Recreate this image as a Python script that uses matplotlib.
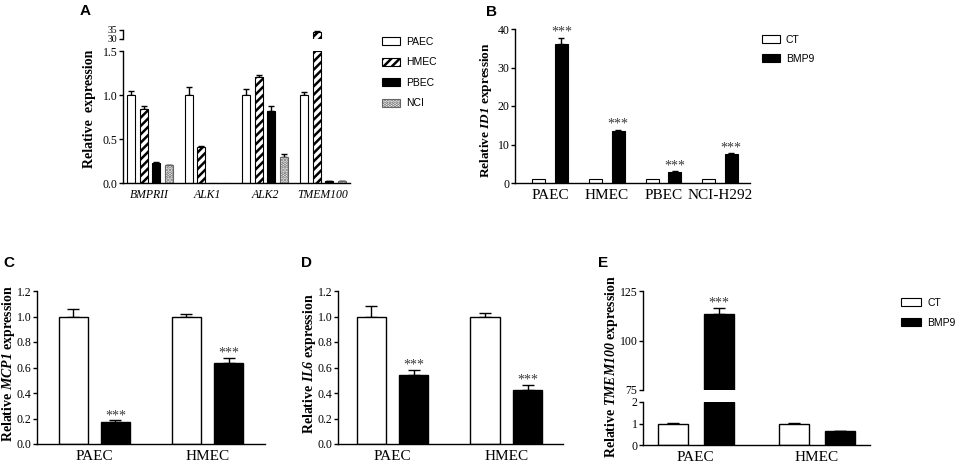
import matplotlib
matplotlib.use("Agg")
import matplotlib.pyplot as plt
from matplotlib.patches import Patch
import numpy as np

# ---------------- data ----------------
genes_A = ["BMPRII", "ALK1", "ALK2", "TMEM100"]
cells_A = ["PAEC", "HMEC", "PBEC", "NCI"]
vals_A = {
    "PAEC": [1.0, 1.0, 1.0, 1.0],
    "HMEC": [0.84, 0.41, 1.20, 34.0],
    "PBEC": [0.23, 0.0, 0.82, 0.02],
    "NCI":  [0.20, 0.0, 0.29, 0.02],
}
errs_A = {
    "PAEC": [0.04, 0.09, 0.07, 0.03],
    "HMEC": [0.03, 0.005, 0.03, 0.5],
    "PBEC": [0.01, 0.0, 0.05, 0.005],
    "NCI":  [0.01, 0.0, 0.04, 0.005],
}

cells_B = ["PAEC", "HMEC", "PBEC", "NCI-H292"]
ct_B = [1.0, 1.0, 1.0, 1.0]
bmp9_B = [36.0, 13.5, 2.8, 7.5]
bmp9_B_err = [1.7, 0.3, 0.2, 0.3]

cells_CDE = ["PAEC", "HMEC"]
ct_C = [1.0, 1.0]
ct_C_err = [0.06, 0.02]
bmp9_C = [0.175, 0.635]
bmp9_C_err = [0.01, 0.04]

ct_D = [1.0, 1.0]
ct_D_err = [0.08, 0.03]
bmp9_D = [0.545, 0.42]
bmp9_D_err = [0.035, 0.045]

ct_E = [1.0, 1.0]
ct_E_err = [0.02, 0.01]
bmp9_E = [113.5, 0.65]
bmp9_E_err = [3.0, 0.01]

treat_labels = ["CT", "BMP9"]
sig_B = [True, True, True, True]
sig_C = [True, True]
sig_D = [True, True]
sig_E = [True, False]

# ---------------- style ----------------
plt.rcParams["mathtext.fontset"] = "custom"
plt.rcParams["mathtext.rm"] = "Liberation Serif"
plt.rcParams["mathtext.it"] = "Liberation Serif:italic"
plt.rcParams["mathtext.bf"] = "Liberation Serif:bold"
try:
    plt.rcParams["mathtext.bfit"] = "Liberation Serif:italic:bold"
    BFIT = r"\mathbfit"
except KeyError:
    BFIT = r"\mathbf"
plt.rcParams["hatch.linewidth"] = 1.8
plt.rcParams["axes.linewidth"] = 1.0

SERIF = "Liberation Serif"
SANS = "Liberation Sans"
W, H = 964, 467
fig = plt.figure(figsize=(W / 100, H / 100), dpi=100)


def px_axes(x0, y_top, x1, y_bot):
    return fig.add_axes([x0 / W, 1 - y_bot / H, (x1 - x0) / W, (y_bot - y_top) / H])


def style_axes(ax, bottom=True, tick_size=8):
    ax.spines["top"].set_visible(False)
    ax.spines["right"].set_visible(False)
    ax.spines["bottom"].set_visible(bottom)
    ax.set_facecolor("none")
    ax.tick_params(axis="y", direction="out", length=3, width=1, pad=1,
                   labelsize=tick_size)
    ax.tick_params(axis="x", length=0, pad=4)


def ylabel_at(x_px, y_px, gene, size=10):
    if gene:
        txt = r"Relative $" + BFIT + "{" + gene + r"}$ expression"
    else:
        txt = "Relative  expression"
    fig.text(x_px / W, 1 - y_px / H, txt, rotation=90, ha="center", va="center",
             fontfamily=SERIF, fontweight="bold", fontsize=size)


def up_err(ax, x, y, e, cap=2.5):
    e = np.atleast_1d(e)
    ax.errorbar(x, y, yerr=[np.zeros_like(e), e],
                fmt="none", ecolor="black", elinewidth=1, capsize=cap, capthick=1,
                zorder=1)


def stars(ax, x, y, size=10):
    ax.text(x, y, "***", ha="center", va="bottom", fontfamily=SERIF,
            fontsize=size, color="#3a3a3a")


# ---------------- Panel A ----------------
fills_A = {
    "PAEC": dict(color="white", edgecolor="black", hatch=None),
    "HMEC": dict(color="white", edgecolor="black", hatch="////"),
    "PBEC": dict(color="black", edgecolor="black", hatch=None),
    "NCI": dict(color="white", edgecolor="#666666", hatch="....."),
}
xg = np.arange(len(genes_A))
step_A = 0.217
w_A = 0.139
xlim_A = (-0.464, 3.47)

axA = px_axes(123, 51, 350, 183)
axAt = px_axes(123, 30, 350, 39)
for i, c in enumerate(cells_A):
    xs = xg + (i - 1.5) * step_A
    v = np.array(vals_A[c])
    e = np.array(errs_A[c])
    f = fills_A[c]
    # lower segment
    axA.bar(xs, np.minimum(v, 1.5), width=w_A, color=f["color"], edgecolor=f["edgecolor"],
            hatch=f["hatch"], linewidth=0.8, zorder=2)
    m = (v <= 1.5) & (v > 0)
    up_err(axA, xs[m], v[m], e[m], cap=2)
    # upper segment
    mt = v > 30
    if mt.any():
        axAt.bar(xs[mt], v[mt] - 30, bottom=30, width=w_A, color=f["color"],
                 edgecolor=f["edgecolor"], hatch=f["hatch"], linewidth=0.8, zorder=2)
        up_err(axAt, xs[mt], v[mt], e[mt], cap=2)
axA.set_xlim(*xlim_A)
axA.set_ylim(0, 1.5)
axAt.set_xlim(*xlim_A)
axAt.set_ylim(30, 35)

style_axes(axA)
axA.set_yticks([0, 0.5, 1.0, 1.5])
axA.set_yticklabels(["0.0", "0.5", "1.0", "1.5"], fontfamily=SERIF, fontsize=8.5)
axA.set_xticks(xg)
axA.set_xticklabels(genes_A, fontfamily=SERIF, fontstyle="italic", fontsize=8.5)
ylabel_at(89, 109, None)

style_axes(axAt, bottom=False)
axAt.set_xticks([])
axAt.set_yticks([30, 35])
axAt.set_yticklabels(["30", "35"], fontfamily=SERIF, fontsize=7)

handles_A = [Patch(facecolor=fills_A[c]["color"], edgecolor=fills_A[c]["edgecolor"],
                   hatch=fills_A[c]["hatch"], linewidth=0.8, label=c) for c in cells_A]
fig.legend(handles=handles_A, loc="upper left", bbox_to_anchor=(382 / W, 1 - 37 / H),
           frameon=False, prop={"family": SANS, "size": 7.5}, handlelength=1.7,
           handleheight=0.8, labelspacing=1.0, handletextpad=0.6, borderaxespad=0,
           borderpad=0)

# ---------------- Panel B ----------------
axB = px_axes(515, 29, 750, 183)
xb = np.arange(len(cells_B))
off_B, w_B = 0.2, 0.23
axB.bar(xb - off_B, ct_B, width=w_B, color="white", edgecolor="black", linewidth=0.8, zorder=2)
axB.bar(xb + off_B, bmp9_B, width=w_B, color="black", edgecolor="black", linewidth=0.8, zorder=2)
up_err(axB, xb + off_B, np.array(bmp9_B), np.array(bmp9_B_err), cap=2.5)
for i in range(len(cells_B)):
    if sig_B[i]:
        stars(axB, xb[i] + off_B, bmp9_B[i] + bmp9_B_err[i] - 0.3)
axB.set_xlim(-0.62, 3.53)
axB.set_ylim(0, 40)
style_axes(axB)
axB.set_yticks([0, 10, 20, 30, 40])
axB.set_yticklabels(["0", "10", "20", "30", "40"], fontfamily=SERIF, fontsize=8.5)
axB.set_xticks(xb)
axB.set_xticklabels(cells_B, fontfamily=SERIF, fontsize=11)
ylabel_at(486, 110, "ID1", size=9.5)

handles_T = [Patch(facecolor="white", edgecolor="black", linewidth=0.8, label=treat_labels[0]),
             Patch(facecolor="black", edgecolor="black", linewidth=0.8, label=treat_labels[1])]
fig.legend(handles=handles_T, loc="upper left", bbox_to_anchor=(762 / W, 1 - 35 / H),
           frameon=False, prop={"family": SANS, "size": 7.5}, handlelength=1.7,
           handleheight=0.8, labelspacing=0.85, handletextpad=0.6, borderaxespad=0,
           borderpad=0)

# ---------------- Panels C & D ----------------
x2 = np.arange(len(cells_CDE))
off2, w2 = 0.187, 0.256


def two_group(ax, ct, cte, bm, bme, sig, xlim):
    ax.bar(x2 - off2, ct, width=w2, color="white", edgecolor="black", linewidth=1, zorder=2)
    ax.bar(x2 + off2, bm, width=w2, color="black", edgecolor="black", linewidth=1, zorder=2)
    up_err(ax, x2 - off2, np.array(ct), np.array(cte), cap=4)
    up_err(ax, x2 + off2, np.array(bm), np.array(bme), cap=4)
    for i in range(len(x2)):
        if sig[i]:
            stars(ax, x2[i] + off2, bm[i] + bme[i] - 0.012 * (ax.get_ylim()[1]))
    ax.set_xlim(*xlim)
    style_axes(ax)
    ax.set_xticks(x2)
    ax.set_xticklabels(cells_CDE, fontfamily=SERIF, fontsize=11)


axC = px_axes(37, 291, 265, 444)
axC.set_ylim(0, 1.2)
two_group(axC, ct_C, ct_C_err, bmp9_C, bmp9_C_err, sig_C, (-0.505, 1.508))
ticks_CD = np.arange(0, 1.21, 0.2)
axC.set_yticks(ticks_CD)
axC.set_yticklabels([f"{v:.1f}" for v in ticks_CD], fontfamily=SERIF, fontsize=8.5)
ylabel_at(9, 364, "MCP1")

axD = px_axes(338, 291, 563, 444)
axD.set_ylim(0, 1.2)
two_group(axD, ct_D, ct_D_err, bmp9_D, bmp9_D_err, sig_D, (-0.479, 1.499))
axD.set_yticks(ticks_CD)
axD.set_yticklabels([f"{v:.1f}" for v in ticks_CD], fontfamily=SERIF, fontsize=8.5)
ylabel_at(309, 364, "IL6")

# ---------------- Panel E ----------------
off_E, w_E = 0.188, 0.248
xlim_E = (-0.436, 1.44)
axE = px_axes(643, 402, 870, 445)
axEt = px_axes(643, 291, 870, 390)
ctE = np.array(ct_E)
bmE = np.array(bmp9_E)
# lower segment
axE.bar(x2 - off_E, np.minimum(ctE, 2), width=w_E, color="white", edgecolor="black", linewidth=1, zorder=2)
axE.bar(x2 + off_E, np.minimum(bmE, 2), width=w_E, color="black", edgecolor="black", linewidth=1, zorder=2)
up_err(axE, x2 - off_E, ctE, np.array(ct_E_err), cap=4)
mE = bmE <= 2
up_err(axE, (x2 + off_E)[mE], bmE[mE], np.array(bmp9_E_err)[mE], cap=4)
axE.set_ylim(0, 2)
axE.set_xlim(*xlim_E)
style_axes(axE)
axE.set_yticks([0, 1, 2])
axE.set_yticklabels(["0", "1", "2"], fontfamily=SERIF, fontsize=8.5)
axE.set_xticks(x2)
axE.set_xticklabels(cells_CDE, fontfamily=SERIF, fontsize=11)
# upper segment
mt = bmE > 75
axEt.bar((x2 + off_E)[mt], bmE[mt] - 75, bottom=75, width=w_E, color="black",
         edgecolor="black", linewidth=1, zorder=2)
up_err(axEt, (x2 + off_E)[mt], bmE[mt], np.array(bmp9_E_err)[mt], cap=4)
for i in range(len(x2)):
    if sig_E[i]:
        stars(axEt, x2[i] + off_E, bmp9_E[i] + bmp9_E_err[i] - 1.0)
axEt.set_ylim(75, 125)
axEt.set_xlim(*xlim_E)
style_axes(axEt, bottom=False)
axEt.set_xticks([])
axEt.set_yticks([75, 100, 125])
axEt.set_yticklabels(["75", "100", "125"], fontfamily=SERIF, fontsize=8.5)
ylabel_at(611, 367, "TMEM100")

handles_T2 = [Patch(facecolor="white", edgecolor="black", linewidth=0.8, label=treat_labels[0]),
              Patch(facecolor="black", edgecolor="black", linewidth=0.8, label=treat_labels[1])]
fig.legend(handles=handles_T2, loc="upper left", bbox_to_anchor=(901 / W, 1 - 298 / H),
           frameon=False, prop={"family": SANS, "size": 7.5}, handlelength=1.9,
           handleheight=0.8, labelspacing=0.95, handletextpad=0.6, borderaxespad=0,
           borderpad=0)

# ---------------- panel letters ----------------
for lab, x, y in (("A", 85, 11), ("B", 492, 12), ("C", 9, 263), ("D", 306, 263), ("E", 603, 263)):
    fig.text(x / W, 1 - y / H, lab, ha="center", va="center", fontfamily=SANS,
             fontweight="bold", fontsize=11)

fig.savefig("out.png", dpi=100, facecolor="white")
